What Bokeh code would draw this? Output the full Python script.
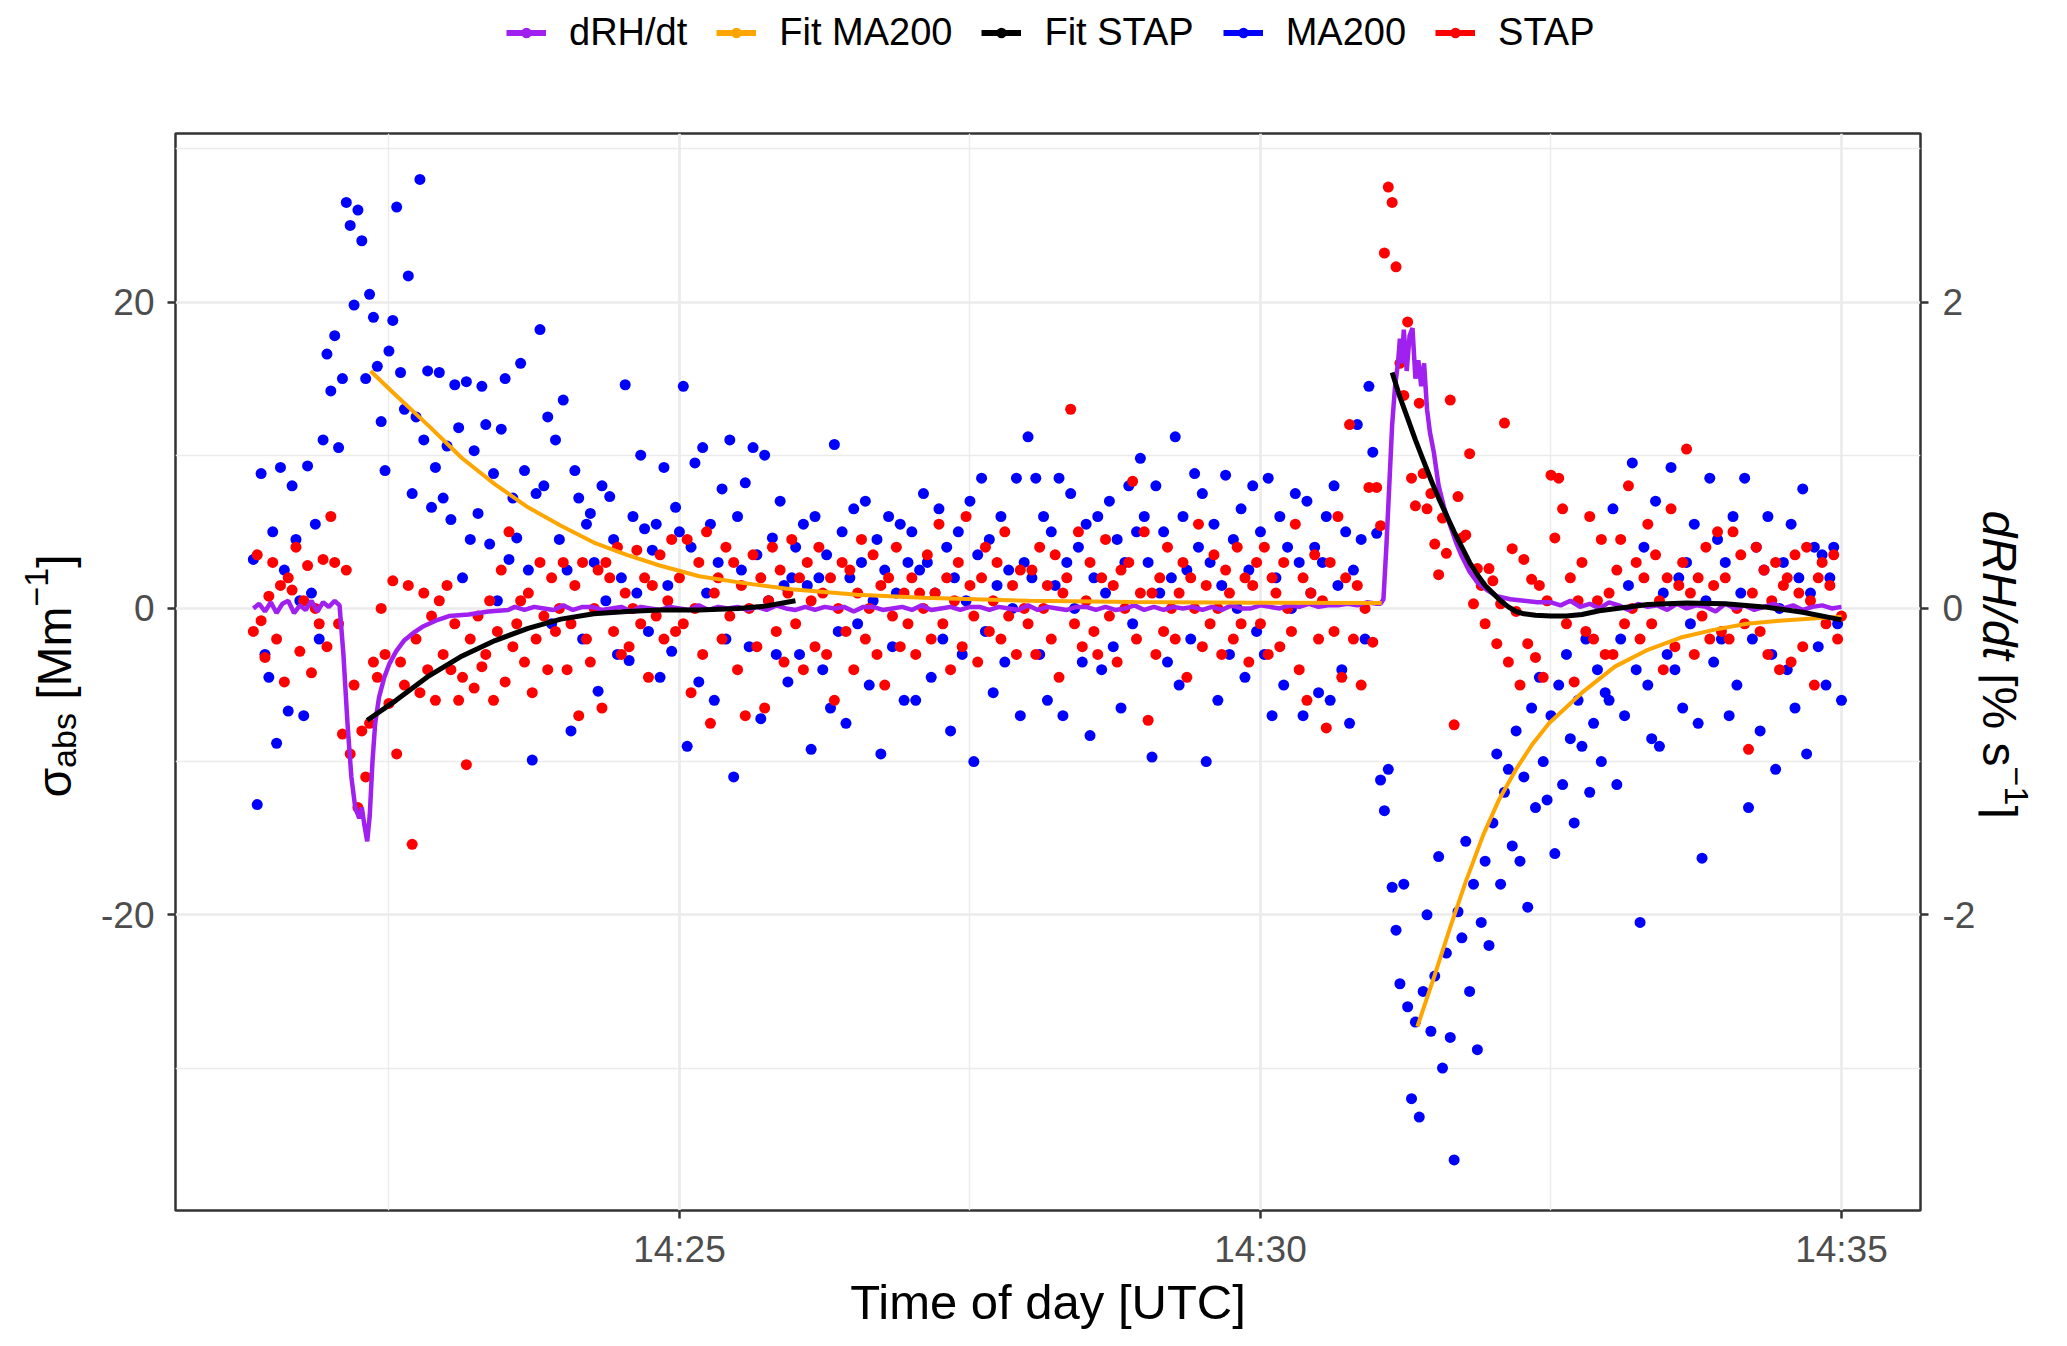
import numpy as np
import pandas as pd
from bokeh.plotting import figure
from bokeh.layouts import row, column
from bokeh.models import (Range1d, LinearAxis, FixedTicker, DatetimeTickFormatter,
                          Label, Legend, LegendItem, ColumnDataSource)
from bokeh.embed import file_html
from bokeh.resources import INLINE

DAY = "2021-06-01 "
FONT = "Liberation Sans"

# --- scatter data: sigma_abs [Mm-1], one value every 2 s, grouped per minute ---
MA200_ROWS = [
    ("14:21:20", [3.2, -12.8, 8.8, -3.0, -4.5, 5.0, -8.8, 9.2, 2.5, -6.7, 8.0, 4.5, 0.5, -7.0, 9.3, 1.0, 5.5, -2.0, 11.0, 16.6]),
    ("14:22:00", [14.2, 17.8, 10.5, 15.0, 26.5, 25.0, 19.8, 26.0, 24.0, 15.0, 20.5, 19.0, 15.8, 12.2, 9.0, 16.8, 18.8, 26.2, 15.4, 13.0, 21.7, 7.5, 12.5, 28.0, 11.0, 15.5, 6.6, 9.2, 15.4, 7.2]),
    ("14:23:00", [10.6, 5.8, 14.6, 11.8, 2.0, 14.8, 4.5, 10.3, 6.2, 14.5, 12.0, 4.2, 8.8, 0.5, 11.7, 15.0, 3.2, 7.2, 4.6, 16.0, 9.0, 2.5, -9.9, 7.5, 18.2, 8.0, 12.5, -1.0, 11.0, 4.5]),
    ("14:24:00", [13.6, 2.5, -8.0, 9.0, 7.2, -2.0, 5.5, 6.2, 3.0, -5.4, 8.0, 0.5, 7.3, 4.5, -3.0, 2.0, 14.6, -3.4, 6.0, 1.0, 10.0, 5.2, -1.5, 3.8, 5.5, -4.5, 9.2, 1.5, -2.8, 6.6]),
    ("14:25:00", [5.0, 14.5, -9.0, 4.0, 9.5, -4.8, 10.5, 1.0, 5.5, -6.0, 3.0, 7.8, -2.0, 11.0, -11.0, 6.0, 2.5, 8.2, -2.5, 10.5, 3.5, -7.2, 10.0, 0.5, 4.6, -3.0, 7.0, 1.5, -4.8, 2.0]),
    ("14:26:00", [4.0, -3.0, 5.5, 1.5, -9.2, 6.0, 2.0, -4.0, 3.5, -6.5, 10.7, -1.5, 5.0, -7.5, 2.0, 6.5, -1.0, 3.0, 7.0, -5.0, 0.5, 4.5, -9.5, 2.5, 6.0, -2.5, 1.0, 5.5, -6.0, 3.0]),
    ("14:27:00", [5.0, -6.0, 2.5, 7.5, 3.0, -4.5, 1.0, 6.5, -2.0, 4.0, -8.0, 2.0, 5.0, -3.0, 0.5, 7.0, -10.0, 3.5, 8.5, -1.5, 4.5, -5.5, 1.5, 6.0, -3.5, 2.5, 0.0, 8.5, -7.0, 3.0]),
    ("14:28:00", [11.2, 2.0, 8.5, -3.0, 6.0, -6.0, 5.0, 1.5, 8.5, -7.0, 3.0, 7.5, 0.0, 4.0, -3.5, 5.5, -8.3, 2.0, 6.0, -4.0, 1.0, 7.0, -2.5, 4.5, -6.5, 3.0, 8.0, -1.0, 5.0, 9.8]),
    ("14:29:00", [6.0, 3.0, -9.7, 8.0, 1.0, 5.0, -3.5, 2.0, 11.2, -5.0, 6.0, 2.5, -2.0, 8.8, 4.0, 7.5, -10.0, 3.0, 5.5, -6.0, 1.5, 8.7, -3.0, 4.5, 0.0, 6.5, -4.5, 2.5, 8.0, -1.5]),
    ("14:30:00", [5.0, -3.0, 8.5, -7.0, 2.0, 6.0, -5.0, 4.0, 0.0, 7.5, 3.0, -7.0, 7.0, 1.0, 4.0, -5.5, 3.0, 6.0, -6.0, 8.0, 1.5, -4.0, 5.0, -7.5, 2.5, 12.0, 4.5, -2.0, 14.5, 10.2]),
    ("14:31:00", [4.9, -11.2, -13.2, -10.5, -18.2, -21.0, -24.5, -18.0, -26.0, -32.0, -27.0, -33.2, -25.0, -20.0, -27.6, -24.0, -16.2, -30.0, -22.5, -28.0, -36.0, -19.8, -21.5, -15.2, -25.0, -18.0, -28.8, -20.5, -16.5, -22.0]),
    ("14:32:00", [-14.0, -9.5, -18.0, -12.0, -10.5, -15.5, -8.0, -16.5, -11.0, -19.5, -6.5, -13.0, -4.5, -10.0, -12.5, -7.0, -16.0, -5.0, -11.5, -3.0, -8.5, -14.0, -6.0, -9.0, -2.0, -12.0, -7.5, -4.0, -10.0, -5.5]),
    ("14:33:00", [-6.0, 6.5, -11.5, -2.0, -7.0, 1.5, 9.5, -4.0, -20.5, 4.0, -5.0, -8.5, 7.0, -9.0, 1.0, -3.0, 9.2, -4.0, 2.0, -6.5, 3.0, -1.0, 5.5, -7.5, -16.3, 0.5, 8.5, -3.5, 4.5, -2.0]),
    ("14:34:00", [3.0, -7.0, 6.0, -5.0, 1.0, 8.5, -13.0, -2.0, 4.0, -8.0, 2.5, 6.0, -3.0, -10.5, 0.0, 3.0, -4.0, 5.5, -6.5, 2.0, 7.8, -9.5, 1.0, 4.0, -2.5, 3.5, -5.0, 2.0, 4.0, -1.0]),
    ("14:35:00", [-6.0]),
]

STAP_ROWS = [
    ("14:21:20", [-1.5, 3.5, -0.8, -3.2, 0.8, 3.0, -2.0, 1.5, -4.8, 2.0, 1.2, 4.0, -2.8, 0.5, 2.8, -4.2, 0.0, -1.0, 3.2, -2.5]),
    ("14:22:00", [6.0, 3.0, -1.0, -8.2, 2.5, -9.5, -5.0, -13.0, -8.0, -11.0, -7.5, -3.5, -4.5, 0.0, -3.0, -6.2, 1.8, -9.5, -3.5, -5.0, 1.5, -15.4, -2.0, -5.5, 1.0, -4.0, -0.5, -6.0, 0.5, -3.0]),
    ("14:23:00", [1.5, -4.0, -1.0, -6.0, -4.5, -10.2, -2.0, -5.2, -0.5, -3.8, -3.0, 0.5, -6.0, -1.5, 2.5, -4.8, 5.0, -2.5, -1.0, 0.5, -3.5, 1.0, -5.5, -2.0, 3.0, -0.5, -4.0, 2.0, -1.5, 0.0]),
    ("14:24:00", [3.0, -4.0, -1.0, 1.5, -7.0, 3.0, -2.0, -3.5, 0.0, 2.5, -6.5, 3.0, 2.0, -1.5, 4.0, -3.0, 1.0, -2.5, 0.0, 3.8, -1.0, 2.0, -4.5, 1.5, -0.5, 3.5, -2.0, 0.5, 4.5, -1.5]),
    ("14:25:00", [2.0, -1.0, 4.5, -5.5, 0.0, 3.0, -3.0, 5.0, -7.5, 1.0, 2.0, -2.0, 4.0, -0.5, 3.0, -4.0, 1.5, -7.0, 0.0, 3.5, -2.5, 2.0, -6.5, 0.5, 4.0, -1.5, 2.5, -3.5, 1.0, 4.5]),
    ("14:26:00", [-1.0, 2.0, -4.0, 3.0, 0.5, -2.5, 4.0, 1.0, -3.0, 2.0, -6.0, 0.0, 3.0, -1.5, 2.5, -4.0, 1.0, 4.5, -2.0, 0.0, 3.5, -3.0, 1.5, -5.0, 2.0, -0.5, 4.0, -2.5, 1.0, -1.0]),
    ("14:27:00", [2.0, -3.0, 1.0, 0.0, 3.5, -2.0, 1.0, 5.5, -1.0, 2.0, -4.0, 0.5, 3.0, -2.5, 6.0, 1.5, -0.5, -3.5, 2.0, 4.0, -1.5, 0.5, 3.0, -2.0, 5.0, -0.5, 1.5, -3.0, 2.5, 0.0]),
    ("14:28:00", [-1.0, 2.5, -3.0, 4.0, 0.0, 1.5, -2.0, 3.5, -4.5, 1.0, 2.0, 13.0, -1.0, 5.0, -2.5, 0.5, 3.0, -1.5, -3.0, 2.0, 4.5, -0.5, 1.5, -3.5, 2.5, 0.0, 3.0, 8.3, -2.0, 1.0]),
    ("14:29:00", [5.0, -7.3, 1.0, -3.0, 2.0, -1.5, 4.0, 0.0, -2.0, 1.0, 3.0, -4.5, 2.0, 0.0, 5.5, -2.5, 1.5, -1.0, 3.5, 0.0, -3.0, 2.5, 1.0, -2.0, 4.0, -1.0, 2.0, -3.5, 1.5, 3.0]),
    ("14:30:00", [-1.0, 4.0, -3.0, 2.0, 1.0, -2.5, 3.0, 0.0, -1.5, 5.5, -4.0, 2.0, -6.0, 1.0, 3.5, -2.0, 0.5, -7.8, 3.0, -1.5, 6.0, -4.5, 2.0, 12.0, -2.0, 1.5, -5.0, 0.0, 7.9, -2.2]),
    ("14:31:00", [7.9, 5.4, 23.2, 27.5, 26.5, 22.3, 16.0, 13.9, 18.7, 8.5, 6.7, 13.4, 8.8, 6.5, 7.5, 4.2, 2.2, 5.9, 3.6, 13.6, -7.6, 7.3, 4.6, 4.8, 10.1, 0.3, 2.6, 1.5, -1.0, 2.6]),
    ("14:32:00", [1.8, -2.3, 0.3, 12.1, -3.5, 3.9, -0.2, -5.0, 3.2, -2.3, 1.9, -3.2, 1.5, -4.5, 0.5, 8.7, 4.6, 8.5, 6.5, -1.0, 2.0, -4.8, 0.5, 3.0, -1.5, 6.0, -2.0, 0.5, 4.5, -3.0]),
    ("14:33:00", [1.0, -3.0, 2.5, 4.5, -1.0, 8.0, 0.0, 3.0, -2.0, 2.0, 5.5, -1.0, 3.5, 0.5, -4.0, 2.0, 6.5, -2.5, 1.5, 3.0, 10.4, 1.0, -3.0, 2.0, -0.5, 4.0, -2.0, 1.5, 5.0, -1.5]),
    ("14:34:00", [2.0, -2.0, 5.0, 0.0, 3.5, -1.0, -9.2, 1.0, 4.0, -1.5, 2.5, -3.0, 0.5, 3.0, -4.0, 1.5, 2.0, -3.5, 3.5, 1.0, -2.5, 4.0, 0.5, -5.0, 2.0, 3.0, -1.0, 1.5, 3.5, -2.0]),
    ("14:35:00", [-0.5]),
]

# --- dRH/dt [% s-1], seconds after 14:21:00 ---
DRH_SEC = ([20, 23, 26, 29, 32, 35, 38, 41, 44, 47, 50, 53, 56, 59, 62]
           + [64.5, 66.5, 68.6, 70.6, 72.6, 74.7, 76.0, 77.4, 78.8, 80.1, 81.5, 82.9, 84.9,
              87.6, 90.3, 93.7, 97.8, 102.6, 107.3, 114.1, 121.0, 131.2, 141.4, 151.6]
           + list(range(155, 601, 5))
           + [602, 603.5, 605, 606.5, 608, 609.5, 611, 612, 613, 614, 615.5, 617, 618.5, 620,
              621.5, 623, 624.5, 626, 627.5, 629.5, 632, 635, 638, 641, 644, 648, 652, 657,
              662, 669, 676, 683]
           + list(range(690, 841, 5)))
DRH_VAL = ([0.00, 0.03, -0.02, 0.04, -0.03, 0.03, 0.05, -0.03, 0.02, -0.01, 0.05, -0.02, 0.04, 0.01, 0.05]
           + [0.02, -0.30, -0.75, -1.10, -1.30, -1.37, -1.30, -1.42, -1.52, -1.35, -1.00, -0.75, -0.58,
              -0.45, -0.36, -0.28, -0.21, -0.16, -0.12, -0.08, -0.05, -0.04, -0.02, -0.01]
           + [0.01, -0.01, 0.01, 0.00, -0.01, 0.02, -0.01, 0.01, 0.01, -0.01,
              0.00, 0.01, -0.02, 0.01, 0.00, -0.01, 0.01, 0.00, -0.01, 0.02,
              -0.01, 0.01, 0.00, 0.01, -0.01, 0.01, -0.01, 0.02, 0.00, -0.01,
              0.01, -0.01, 0.01, 0.00, 0.01, -0.02, 0.01, 0.01, -0.01, 0.00,
              0.01, -0.01, 0.02, -0.01, 0.00, 0.01, -0.01, 0.01, 0.01, -0.01,
              0.01, 0.00, -0.01, 0.02, -0.01, 0.01, 0.00, -0.01, 0.01, 0.01,
              -0.01, 0.01, -0.01, 0.00, 0.02, -0.01, 0.01, -0.01, 0.01, 0.00,
              0.01, -0.01, 0.01, -0.01, 0.02, 0.00, 0.00, 0.02, 0.01, 0.00,
              0.02, 0.01, 0.03, 0.01, 0.02, 0.02, 0.03, 0.02, 0.04, 0.03]
           + [0.03, 0.06, 0.40, 0.80, 1.20, 1.45, 1.60, 1.76, 1.60, 1.82, 1.55, 1.78, 1.83, 1.50,
              1.62, 1.45, 1.60, 1.30, 1.15, 1.02, 0.80, 0.65, 0.54, 0.43, 0.34, 0.24, 0.17, 0.12,
              0.08, 0.06, 0.05, 0.04]
           + [0.04, 0.02, 0.05, 0.01, 0.03, 0.00, 0.04, 0.02, -0.01, 0.03,
              0.01, 0.02, -0.01, 0.03, 0.00, 0.02, 0.01, -0.02, 0.03, 0.00,
              0.02, -0.01, 0.01, 0.03, 0.00, 0.02, -0.01, 0.01, 0.02, 0.00, 0.01])

# --- fitted curves [Mm-1], seconds after 14:21:00, two events each ---
FIT_MA200 = [
    ([80.5, 93.7, 110.7, 127.8, 144.8, 161.8, 178.8, 195.8, 212.8, 229.8, 250.2, 270.6, 297.8,
      331.8, 365.9, 420.3, 474.7, 535.9, 602.6],
     [15.5, 13.9, 11.9, 9.8, 8.1, 6.6, 5.4, 4.3, 3.5, 2.8, 2.1, 1.7, 1.25, 0.9, 0.7, 0.5, 0.42, 0.37, 0.35]),
    ([621.0, 629.8, 638.0, 646.1, 655.0, 663.1, 672.0, 680.2, 689.0, 706.0, 723.0, 740.0, 757.0,
      774.0, 791.0, 808.0, 825.1, 840.0],
     [-27.3, -24.0, -20.8, -17.8, -14.8, -12.5, -10.5, -8.9, -7.5, -5.5, -3.8, -2.7, -1.9, -1.4,
      -1.0, -0.8, -0.65, -0.55]),
]
FIT_STAP = [
    ([78.8, 93.7, 110.7, 127.8, 144.8, 161.8, 178.8, 195.8, 212.8, 229.8, 250.2, 270.6, 284.2, 299.9],
     [-7.3, -6.0, -4.4, -3.1, -2.1, -1.3, -0.7, -0.35, -0.2, -0.1, -0.1, 0.0, 0.15, 0.5]),
    ([608, 612, 616, 620, 624, 628, 632, 636, 640, 644, 648, 652, 656, 660, 664, 668, 672, 676,
      682, 690, 698, 706, 715, 740, 760, 780, 800, 820, 840],
     [15.4, 13.8, 12.4, 11.0, 9.7, 8.4, 7.2, 6.1, 5.0, 4.0, 3.0, 2.2, 1.5, 1.0, 0.5, 0.1, -0.2,
      -0.35, -0.45, -0.5, -0.5, -0.4, -0.15, 0.25, 0.35, 0.3, 0.1, -0.25, -0.75]),
]

X_TICKS = ["14:25:00", "14:30:00", "14:35:00"]
X_MINOR = ["14:22:30", "14:27:30", "14:32:30"]
Y_TICKS = [-20, 0, 20]
Y_MINOR = [-30, -10, 10, 30]
Y2_TICKS = [-2, 0, 2]

SERIES = [("dRH/dt", "#A020F0"), ("Fit MA200", "#FFA500"), ("Fit STAP", "#000000"),
          ("MA200", "#0000FF"), ("STAP", "#FF0000")]
C_DRH, C_FMA, C_FST, C_MA, C_ST = [c for _, c in SERIES]

# page layout (px): legend strip on top, then left title | plot | right title
W, H = 2067, 1346
TOP_H = 64
MID_H = H - TOP_H
WL, WR = 92, 89
WM = W - WL - WR
F_LEFT, F_RIGHT, F_TOP, F_BOTTOM = 175, 1920, 133, 1210   # plot frame on the page
BT, BB = F_TOP - TOP_H, H - F_BOTTOM                        # shared top / bottom borders


def ms(t):
    return pd.Timestamp(DAY + t).value / 1e6


BASE = ms("14:21:00")


def rows_to_xy(rows):
    xs, ys = [], []
    for start, vals in rows:
        t0 = ms(start)
        xs += [t0 + 2000.0 * i for i in range(len(vals))]
        ys += vals
    return xs, ys


def sec_to_ms(secs):
    return [BASE + 1000.0 * s for s in secs]


def blank(w, h, bt=0, bb=0):
    f = figure(width=w, height=h, output_backend="svg", toolbar_location=None,
               x_axis_location=None, y_axis_location=None,
               min_border_left=0, min_border_right=0, min_border_top=bt, min_border_bottom=bb,
               x_range=Range1d(0, 1), y_range=Range1d(0, 1))
    f.outline_line_color = None
    f.background_fill_color = "white"
    f.border_fill_color = "white"
    f.grid.grid_line_color = None
    return f


def lab(f, x, y, text, size, angle=0.0, style="normal"):
    f.add_layout(Label(x=x, y=y, x_units="screen", y_units="screen", text=text,
                       angle=angle, text_align="left", text_baseline="alphabetic",
                       text_font=FONT, text_font_size=size, text_font_style=style,
                       text_color="black"))


# ---------------- main plot ----------------
p = figure(width=WM, height=MID_H, x_axis_type="datetime",
           output_backend="svg", toolbar_location=None,
           x_range=Range1d(ms("14:20:39.8"), ms("14:35:40.8")),
           y_range=Range1d(-39.3, 31.0),
           min_border_left=F_LEFT - WL, min_border_right=WL + WM - F_RIGHT,
           min_border_top=BT, min_border_bottom=BB)
p.extra_y_ranges = {"rh": Range1d(-3.93, 3.10)}
p.background_fill_color = "white"
p.border_fill_color = "white"
p.outline_line_color = "#333333"
p.outline_line_width = 2.5

yaxis2 = LinearAxis(y_range_name="rh")
p.add_layout(yaxis2, "right")

xticker = FixedTicker(ticks=[ms(t) for t in X_TICKS], minor_ticks=[ms(t) for t in X_MINOR])
p.xaxis.ticker = xticker
p.xgrid.ticker = xticker
fmt = "%H:%M"
p.xaxis.formatter = DatetimeTickFormatter(seconds=fmt, minsec=fmt, minutes=fmt, hourmin=fmt, hours=fmt)
p.xaxis.axis_label = "Time of day [UTC]"
p.xaxis.axis_label_text_font = FONT
p.xaxis.axis_label_text_font_size = "49px"
p.xaxis.axis_label_text_font_style = "normal"
p.xaxis.axis_label_text_color = "black"
p.xaxis.axis_label_standoff = 2

yticker = FixedTicker(ticks=Y_TICKS, minor_ticks=Y_MINOR)
p.yaxis.ticker = yticker
p.ygrid.ticker = yticker
p.yaxis.major_label_overrides = {v: str(v) for v in Y_TICKS}
yaxis2.ticker = FixedTicker(ticks=Y2_TICKS)
yaxis2.major_label_overrides = {v: str(v) for v in Y2_TICKS}

for ax in [p.xaxis[0], p.yaxis[0], yaxis2]:
    ax.axis_line_color = None
    ax.major_tick_line_color = "#333333"
    ax.major_tick_line_width = 2.5
    ax.major_tick_out = 8
    ax.major_tick_in = 0
    ax.minor_tick_line_color = None
    ax.major_label_text_font = FONT
    ax.major_label_text_font_size = "37px"
    ax.major_label_text_color = "#4D4D4D"
p.xaxis.major_label_standoff = 10
p.yaxis.major_label_standoff = 13
yaxis2.major_label_standoff = 14

for g in [p.xgrid[0], p.ygrid[0]]:
    g.grid_line_color = "#EBEBEB"
    g.grid_line_width = 2.7
    g.minor_grid_line_color = "#EBEBEB"
    g.minor_grid_line_width = 1.4

mx, my = rows_to_xy(MA200_ROWS)
sx, sy = rows_to_xy(STAP_ROWS)
p.scatter(mx, my, size=11, color=C_MA, line_color=None)
p.scatter(sx, sy, size=11, color=C_ST, line_color=None)

p.line(sec_to_ms(DRH_SEC), DRH_VAL, y_range_name="rh", line_color=C_DRH, line_width=4.5)

for secs, vals in FIT_MA200:
    p.line(sec_to_ms(secs), vals, line_color=C_FMA, line_width=4)
for secs, vals in FIT_STAP:
    p.line(sec_to_ms(secs), vals, line_color=C_FST, line_width=5)

# ---------------- legend strip ----------------
top = blank(W, TOP_H)
key_src = ColumnDataSource(data=dict(x=[float("nan")], y=[float("nan")]))
items = []
for name, col in SERIES:
    lr = top.line("x", "y", source=key_src, line_color=col, line_width=6)
    sr = top.scatter("x", "y", source=key_src, size=10, color=col, line_color=None)
    items.append(LegendItem(label=name, renderers=[lr, sr]))
legend = Legend(items=items, orientation="horizontal", location="left", margin=506,
                border_line_color=None, background_fill_alpha=0, padding=0,
                label_text_font=FONT, label_text_font_size="38px", label_text_color="black",
                glyph_width=40, glyph_height=26, label_standoff=23, spacing=29)
top.add_layout(legend)

# ---------------- y-axis titles (sub/superscripts as separate pieces) ----------------
left = blank(WL, MID_H, BT, BB)
up = np.pi / 2
lab(left, 54, 413.0, "σ", "48px", up)
lab(left, 63, 442.6, "abs", "34px", up)
lab(left, 54, 510.7, "[Mm", "48px", up)
lab(left, 36, 604.0, "−1", "34px", up)
lab(left, 54, 642.8, "]", "48px", up)

right = blank(WR, MID_H, BT, BB)
dn = -np.pi / 2
lab(right, 21, 700.0, "dRH/dt", "48px", dn, style="italic")
lab(right, 21, 537.3, "[% s", "48px", dn)
lab(right, 38, 443.9, "−1", "34px", dn)
lab(right, 21, 405.1, "]", "48px", dn)

page = column(top, row(left, p, right))
open("out.html", "w").write(file_html(page, INLINE))
